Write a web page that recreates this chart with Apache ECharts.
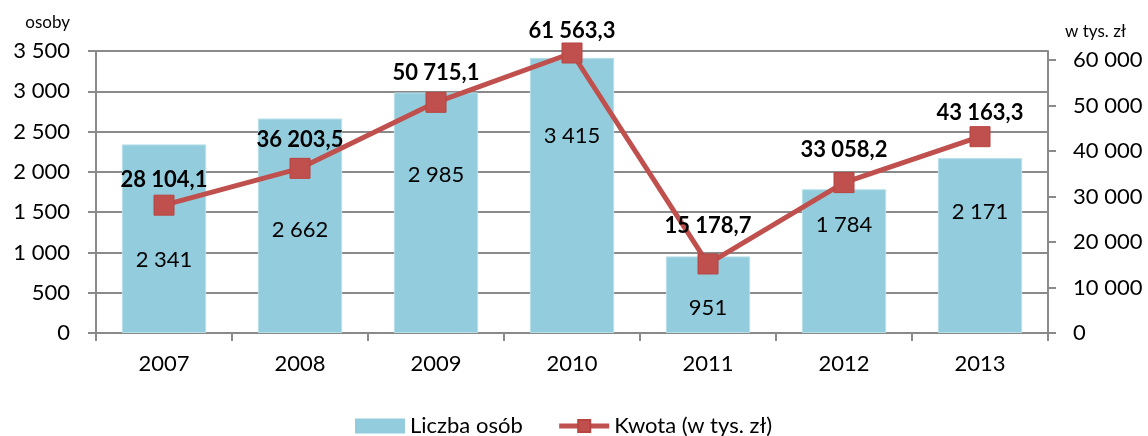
<!DOCTYPE html>
<html>
<head>
<meta charset="utf-8">
<script src="https://cdn.jsdelivr.net/npm/echarts@6/dist/echarts.min.js"></script>
<style>
  html, body { margin: 0; padding: 0; background: #fff; }
  #chart { width: 1148px; height: 436px; }
</style>
</head>
<body>
<div id="chart"></div>
<script>
// Data
const years = ['2007', '2008', '2009', '2010', '2011', '2012', '2013'];
const persons = [2341, 2662, 2985, 3415, 951, 1784, 2171];
const amounts = [28104.1, 36203.5, 50715.1, 61563.3, 15178.7, 33058.2, 43163.3];
const rightTicks = [0, 10000, 20000, 30000, 40000, 50000, 60000];

// Label placement (style only)
const barLabelShift = [21, 4, -38, -60, 13, -36, -34];
const lineLabelRise = [25, 28, 29, 22, 38, 33, 24];

const FONT = 'Lato, "Open Sans", sans-serif';
const GRAY = '#8a8a8a';
const RED = '#C0504D';

// "28 104,1" style number formatting
function fmt(v, decimals) {
  const parts = v.toFixed(decimals).split('.');
  const int = parts[0].replace(/\B(?=(\d{3})+(?!\d))/g, ' ');
  return parts.length > 1 ? int + ',' + parts[1] : int;
}

const chart = echarts.init(document.getElementById('chart'));

const option = {
  animation: false,
  textStyle: { fontFamily: FONT },
  grid: { left: 96, right: 100, top: 51, bottom: 103 },
  legend: {
    left: 350,
    top: 410,
    itemWidth: 50,
    itemHeight: 15,
    itemGap: 34,
    textStyle: { fontSize: 22, color: '#000', fontFamily: FONT },
    data: [
      { name: 'Liczba osób', icon: 'rect', itemStyle: { borderWidth: 0 } },
      { name: 'Kwota (w tys. zł)', itemStyle: { color: RED }, lineStyle: { width: 5, color: RED } }
    ]
  },
  xAxis: {
    type: 'category',
    data: years,
    axisLine: { lineStyle: { color: GRAY, width: 2 } },
    axisTick: { show: true, length: 8, lineStyle: { color: GRAY, width: 2 } },
    axisLabel: { fontSize: 22, color: '#000', margin: 20 }
  },
  yAxis: [
    {
      type: 'value',
      min: 0,
      max: 3500,
      interval: 500,
      name: 'osoby',
      nameLocation: 'end',
      nameGap: 28,
      nameTextStyle: { fontSize: 17, color: '#000', align: 'right', verticalAlign: 'middle', padding: [0, 26, 0, 0] },
      axisLine: { show: true, lineStyle: { color: GRAY, width: 2 } },
      axisTick: { show: true, length: 8, lineStyle: { color: GRAY, width: 2 } },
      splitLine: { lineStyle: { color: GRAY, width: 2 } },
      axisLabel: { fontSize: 22, color: '#000', margin: 26, formatter: v => fmt(v, 0) }
    },
    {
      type: 'value',
      min: 0,
      max: 62000,
      interval: 10000,
      position: 'right',
      name: 'w tys. zł',
      nameLocation: 'end',
      nameGap: 19,
      nameTextStyle: { fontSize: 17, color: '#000', align: 'left', verticalAlign: 'middle', padding: [0, 0, 0, 17] },
      axisLine: { show: true, lineStyle: { color: GRAY, width: 2 } },
      axisTick: { show: true, length: 8, customValues: rightTicks, lineStyle: { color: GRAY, width: 2 } },
      splitLine: { show: false },
      axisLabel: {
        fontSize: 22, color: '#000', margin: 25, customValues: rightTicks,
        formatter: v => (v > 60000 ? '' : fmt(v, 0))
      }
    }
  ],
  series: [
    {
      name: 'Liczba osób',
      type: 'bar',
      barWidth: '62%',
      itemStyle: { color: '#93CDDD', borderColor: '#b9e0ea', borderWidth: 1 },
      label: { show: true, position: 'inside', fontSize: 22, color: '#000', fontFamily: FONT },
      data: persons.map((v, i) => ({
        value: v,
        label: { offset: [0, barLabelShift[i]], formatter: fmt(v, 0) }
      }))
    },
    {
      name: 'Kwota (w tys. zł)',
      type: 'line',
      yAxisIndex: 1,
      z: 5,
      symbol: 'rect',
      symbolSize: 20,
      lineStyle: { color: RED, width: 5 },
      itemStyle: { color: RED, borderColor: '#b8433f', borderWidth: 1 },
      label: {
        show: true, position: 'inside', fontSize: 22, fontWeight: 'bold', color: '#000', fontFamily: FONT
      },
      data: amounts.map((v, i) => ({
        value: v,
        label: { offset: [0, -lineLabelRise[i]], formatter: fmt(v, 1) }
      }))
    }
  ]
};

chart.setOption(option);
</script>
</body>
</html>
